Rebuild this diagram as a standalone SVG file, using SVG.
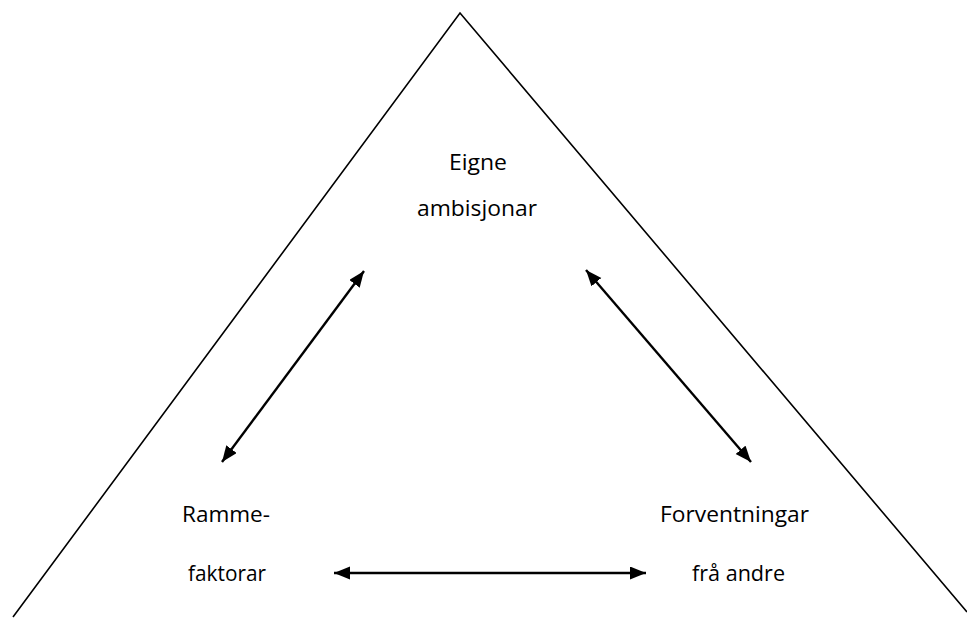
<svg xmlns="http://www.w3.org/2000/svg" width="967" height="618" viewBox="0 0 967 618">
<style>
.lbl{font-family:"Open Sans","Liberation Sans",Arial,sans-serif;font-size:21px;fill:#000;text-anchor:middle}
.end{text-anchor:end}
.tri{fill:none;stroke:#000;stroke-width:1.6}
.con{stroke:#000;stroke-width:2.4;fill:none;marker-start:url(#ah);marker-end:url(#ah)}
</style>
<defs>
<marker id="ah" markerUnits="userSpaceOnUse" markerWidth="18" markerHeight="14" refX="16" refY="6.5" orient="auto-start-reverse">
<path d="M0,0 L16,6.5 L0,13 Z" fill="#000"/>
</marker>
</defs>
<rect width="967" height="618" fill="#fff"/>
<g id="triangle"><polyline class="tri" points="13,617 460,13 967,612"/></g>
<g id="node-eigne"><text class="lbl" x="478" y="170" textLength="58" lengthAdjust="spacingAndGlyphs">Eigne</text><text class="lbl" x="477" y="216" textLength="120" lengthAdjust="spacingAndGlyphs">ambisjonar</text></g>
<g id="node-ramme"><text class="lbl end" x="270" y="522" textLength="88" lengthAdjust="spacingAndGlyphs">Ramme-</text><text class="lbl end" x="266" y="581" textLength="78" lengthAdjust="spacingAndGlyphs">faktorar</text></g>
<g id="node-forv"><text class="lbl" x="734.5" y="522" textLength="149" lengthAdjust="spacingAndGlyphs">Forventningar</text><text class="lbl" x="738.5" y="581" textLength="93" lengthAdjust="spacingAndGlyphs">frå andre</text></g>
<g id="connectors">
<line class="con" x1="364" y1="271" x2="222" y2="462"/>
<line class="con" x1="586" y1="270" x2="751" y2="462"/>
<line class="con" x1="334" y1="573" x2="646" y2="573"/>
</g>
</svg>
